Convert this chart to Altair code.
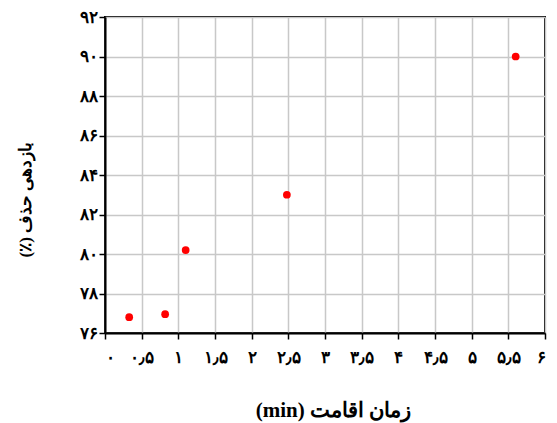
import altair as alt
import pandas as pd

# Data
time_min = [0.33, 0.82, 1.10, 2.48, 5.60]
removal_pct = [76.8, 76.95, 80.2, 83.0, 90.0]

x_ticks = [0, 0.5, 1, 1.5, 2, 2.5, 3, 3.5, 4, 4.5, 5, 5.5, 6]
y_ticks = [76, 78, 80, 82, 84, 86, 88, 90, 92]

# RTL embedding so the Persian titles read right-to-left
x_title = "\u202bزمان اقامت (min)\u202c"
y_title = "\u202bبازدهی حذف (٪)\u202c"

PERSIAN = "۰۱۲۳۴۵۶۷۸۹"


def to_fa(v):
    s = ("%g" % v).replace(".", "٫")
    return "".join(PERSIAN[int(c)] if c.isdigit() else c for c in s)


def label_expr(ticks):
    expr = "''"
    for t in reversed(ticks):
        expr = f"abs(datum.value - {t}) < 1e-6 ? '{to_fa(t)}' : ({expr})"
    return expr


df = pd.DataFrame({"t": time_min, "r": removal_pct})

FONT = "Liberation Serif"

common = dict(
    labelFontSize=17,
    labelFontWeight="bold",
    labelColor="black",
    labelFont=FONT,
    titleFont=FONT,
    titleFontWeight="bold",
    titleColor="black",
    domainColor="black",
    domainWidth=2,
    tickColor="black",
    tickSize=6,
    tickWidth=1.5,
    gridColor="#c8c8c8",
    gridWidth=1.5,
)

chart = (
    alt.Chart(df)
    .mark_circle(color="#ff0000", opacity=1, size=60)
    .encode(
        x=alt.X(
            "t:Q",
            scale=alt.Scale(domain=[0, 6], nice=False),
            axis=alt.Axis(
                values=x_ticks,
                labelExpr=label_expr(x_ticks),
                title=x_title,
                titleFontSize=21,
                titleX=228,
                titleY=77,
                titleBaseline="middle",
                labelPadding=10,
                **common,
            ),
        ),
        y=alt.Y(
            "r:Q",
            scale=alt.Scale(domain=[76, 92], nice=False, zero=False),
            axis=alt.Axis(
                values=y_ticks,
                labelExpr=label_expr(y_ticks),
                title=y_title,
                titleFontSize=17,
                titleX=-80,
                titleY=182,
                titleBaseline="middle",
                labelPadding=2,
                **common,
            ),
        ),
    )
    .properties(
        width=440,
        height=316,
        autosize=alt.AutoSizeParams(type="none"),
        padding={"left": 97, "top": 9, "right": 4, "bottom": 90},
    )
    .configure_view(stroke="black", strokeWidth=2)
)

chart.save("out.html", embed_options={"renderer": "svg", "actions": False})
